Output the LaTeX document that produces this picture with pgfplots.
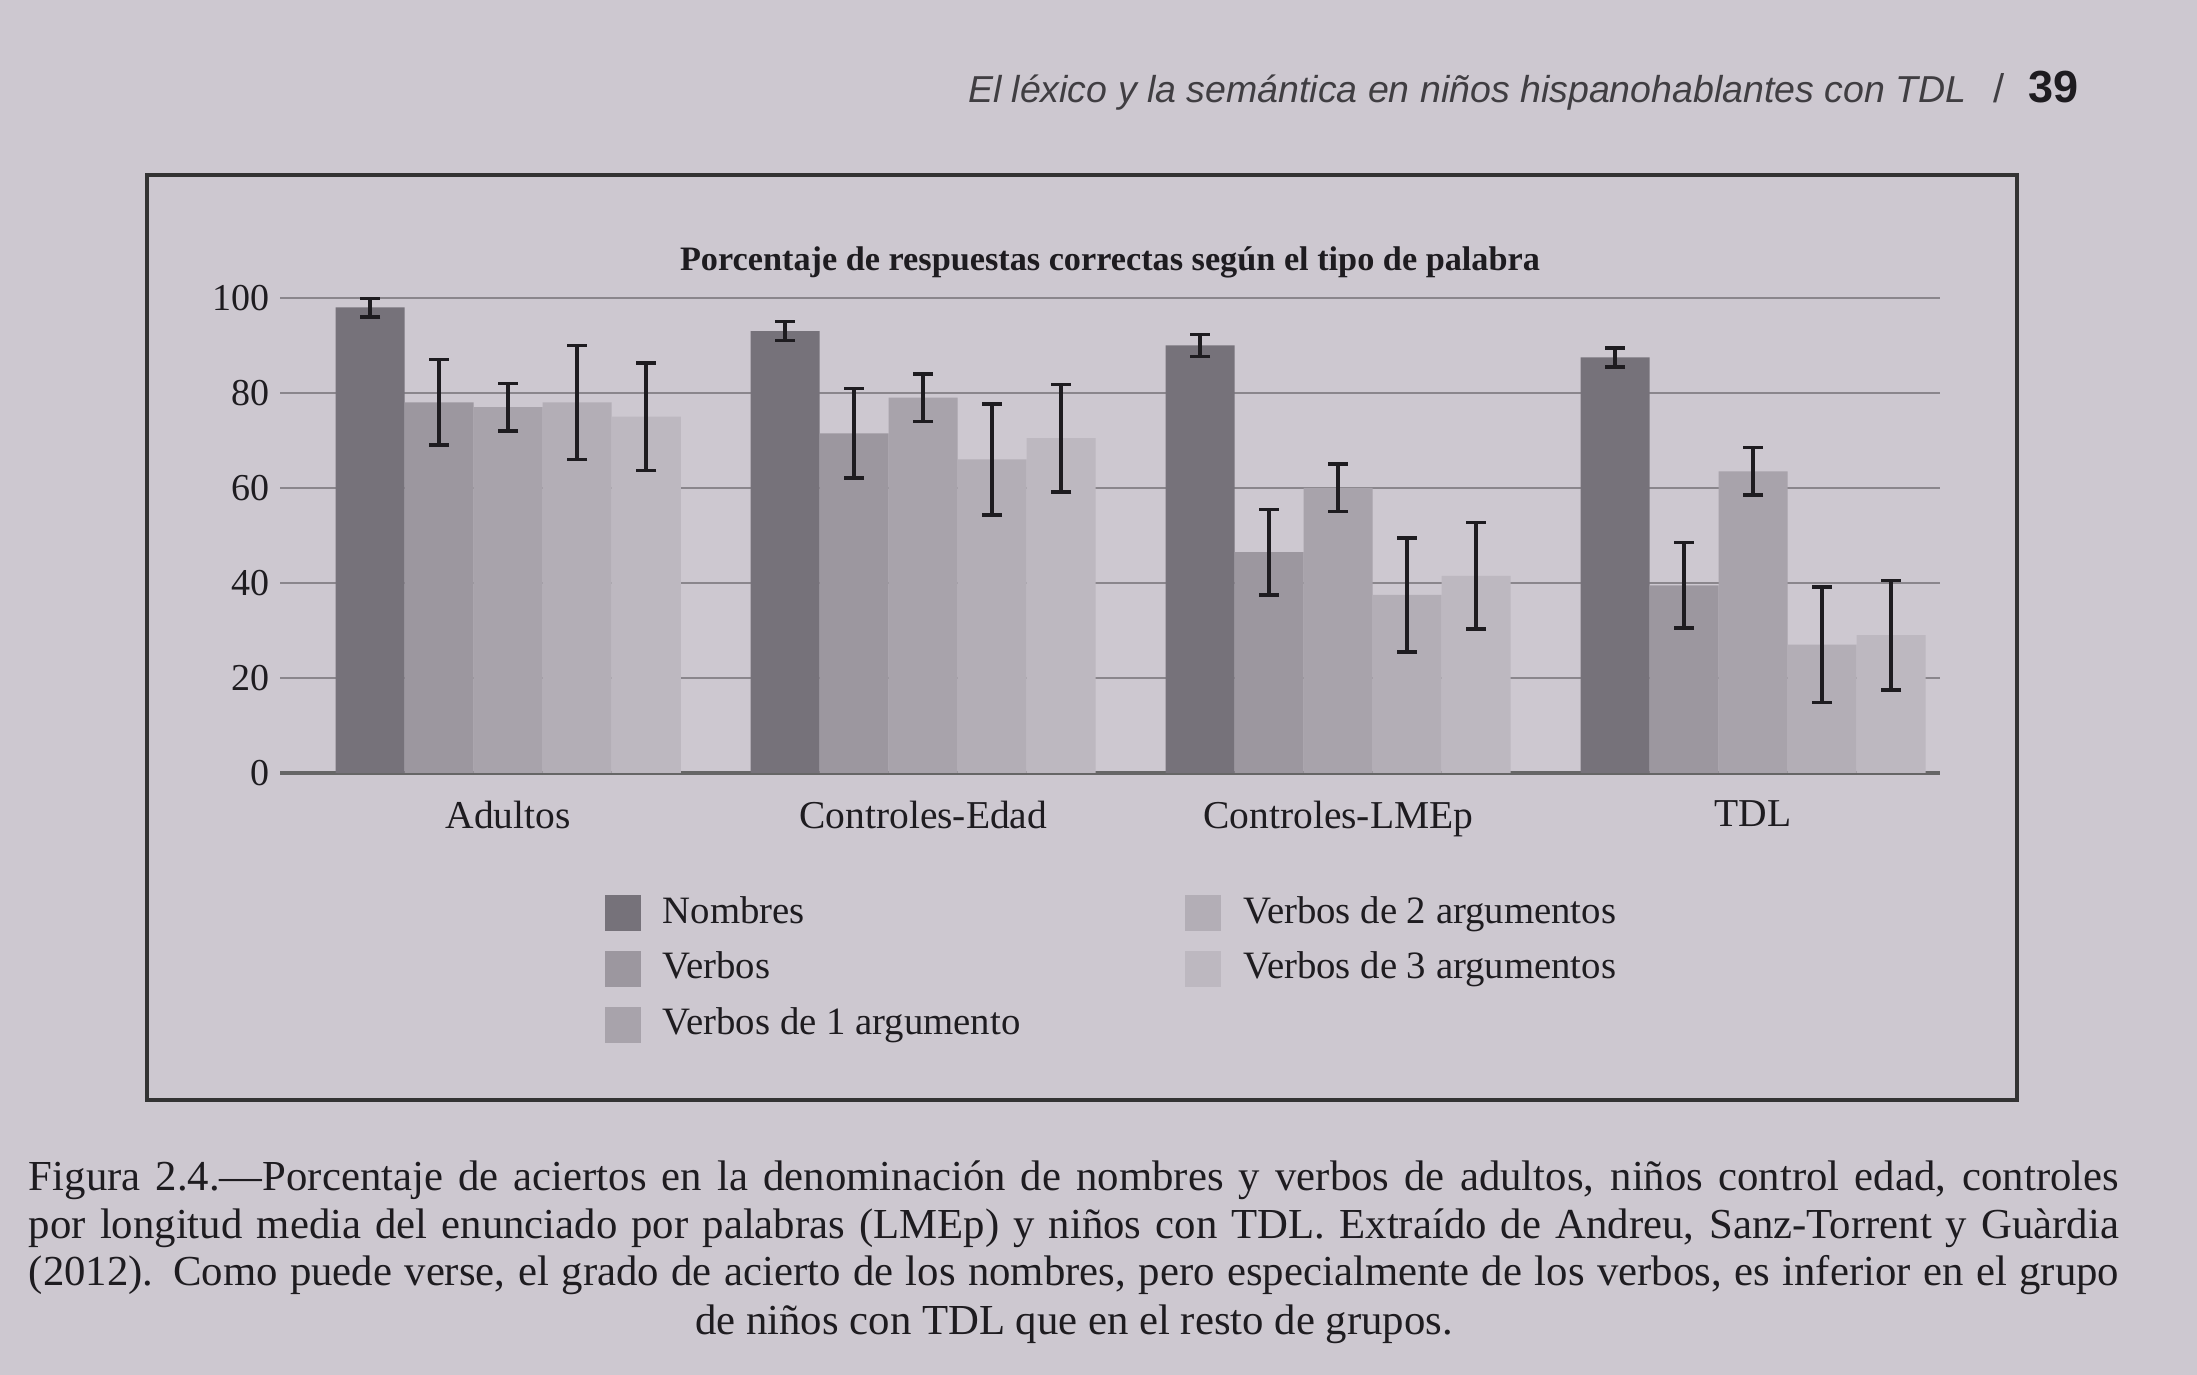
\documentclass[border=0pt]{standalone}
\usepackage{fontspec}
\setmainfont{Liberation Serif}
\setsansfont{Liberation Sans}
\usepackage{pgfplots}
\usepackage{pgfplotstable}
\pgfplotsset{compat=1.18}
\definecolor{pagebg}{HTML}{CDC8D0}
\definecolor{cN}{HTML}{76727A}
\definecolor{cV}{HTML}{9C979F}
\definecolor{cA}{HTML}{A8A3AB}
\definecolor{cB}{HTML}{B3AEB6}
\definecolor{cC}{HTML}{BDB8C0}
\definecolor{gridc}{HTML}{8A868C}
\definecolor{txt}{HTML}{1E1C20}
\pgfplotstableread{
x y e
0 98 2
1 93 2
2 90 2.3
3 87.5 2
}\nombres
\pgfplotstableread{
x y e
0 78 9
1 71.5 9.4
2 46.5 9
3 39.5 9
}\verbos
\pgfplotstableread{
x y e
0 77 5
1 79 5
2 60 5
3 63.5 5
}\vuno
\pgfplotstableread{
x y e
0 78 12
1 66 11.7
2 37.5 12
3 27 12.2
}\vdos
\pgfplotstableread{
x y e
0 75 11.3
1 70.5 11.3
2 41.5 11.2
3 29 11.5
}\vtres
\begin{document}
\begin{tikzpicture}
\fill[pagebg] (0pt,0pt) rectangle (439.4pt,-275pt);
% frame
\draw[line width=0.8pt, color=black!80] (29.4pt,-35pt) rectangle (403.4pt,-220pt);
% header
\node[anchor=base west, inner sep=0pt, text=txt!85, font=\sffamily\itshape\fontsize{7.5}{9}\selectfont] at (193.4pt,-20.5pt) {El léxico y la semántica en niños hispanohablantes con TDL};
\node[anchor=base west, inner sep=0pt, text=txt!85, font=\sffamily\fontsize{8}{9}\selectfont] at (398.4pt,-20.5pt) {/};
\node[anchor=base west, inner sep=0pt, text=txt, font=\sffamily\bfseries\fontsize{9}{10}\selectfont] at (405.5pt,-20.5pt) {39};
% caption
\node[anchor=north west, inner sep=0pt, text=txt, font=\fontsize{8.55}{9.5}\selectfont] at (5.6pt,-232pt) {\parbox{418pt}{\parfillskip=0pt Figura 2.4.—Porcentaje de aciertos en la denominación de nombres y verbos de adultos, niños control edad, controles\linebreak por longitud media del enunciado por palabras (LMEp) y niños con TDL. Extraído de Andreu, Sanz-Torrent y Guàrdia\linebreak (2012). Como puede verse, el grado de acierto de los nombres, pero especialmente de los verbos, es inferior en el grupo}};
\node[anchor=base, inner sep=0pt, text=txt, font=\fontsize{8.55}{9.5}\selectfont] at (214.8pt,-267pt) {de niños con TDL que en el resto de grupos.};
\begin{axis}[
  at={(56pt,-154.6pt)}, anchor=south west,
  scale only axis, width=332pt, height=95pt,
  ymin=0, ymax=100, xmin=-0.55, xmax=3.45,
  ybar=0pt, bar width=13.8pt,
  axis line style={draw=none},
  ytick={20,40,60,80,100},
  extra y ticks={0},
  extra y tick style={grid style={line width=0.9pt, color=black!60}},
  ymajorgrids, grid style={line width=0.5pt, color=gridc},
  xtick={0,1,2,3},
  xticklabels={Adultos, Controles-Edad, Controles-LMEp, TDL},
  major tick length=0pt,
  tick label style={text=txt, font=\fontsize{7.6}{9}\selectfont},
  xticklabel style={font=\fontsize{7.9}{9}\selectfont, yshift=-2pt},
  /pgf/number format/assume math mode=true,
  yticklabel style={xshift=1.5pt},
  title={\textbf{Porcentaje de respuestas correctas según el tipo de palabra}},
  title style={text=txt, font=\fontsize{6.85}{8}\selectfont, at={(0.5,1)}, anchor=south, yshift=-5.5pt},
  legend columns=2,
  legend cell align=left,
  legend style={at={(0.186,-0.215)}, anchor=north west, draw=none, fill=none,
     text=txt, font=\fontsize{7.75}{9}\selectfont, row sep=0.3pt,
     /tikz/every even column/.append style={column sep=31pt}},
  legend image code/.code={\fill[#1, draw=none] (0pt,-3.6pt) rectangle (7.2pt,3.6pt); \path (9.4pt,0pt);},
  error bars/y dir=both, error bars/y explicit,
  error bars/error bar style={line width=0.7pt, color=txt},
  error bars/error mark options={rotate=90, mark size=2pt, line width=0.7pt, color=txt},
]
\addplot[fill=cN, draw=none, forget plot, bar shift=-27.6pt] table[x=x, y=y, y error=e] {\nombres};
\addplot[fill=cV, draw=none, forget plot, bar shift=-13.8pt] table[x=x, y=y, y error=e] {\verbos};
\addplot[fill=cA, draw=none, forget plot, bar shift=0pt] table[x=x, y=y, y error=e] {\vuno};
\addplot[fill=cB, draw=none, forget plot, bar shift=13.8pt] table[x=x, y=y, y error=e] {\vdos};
\addplot[fill=cC, draw=none, forget plot, bar shift=27.6pt] table[x=x, y=y, y error=e] {\vtres};
\addlegendimage{fill=cN}
\addlegendentry{Nombres}
\addlegendimage{fill=cB}
\addlegendentry{Verbos de 2 argumentos}
\addlegendimage{fill=cV}
\addlegendentry{Verbos}
\addlegendimage{fill=cC}
\addlegendentry{Verbos de 3 argumentos}
\addlegendimage{fill=cA}
\addlegendentry{Verbos de 1 argumento}
\end{axis}
\end{tikzpicture}
\end{document}
